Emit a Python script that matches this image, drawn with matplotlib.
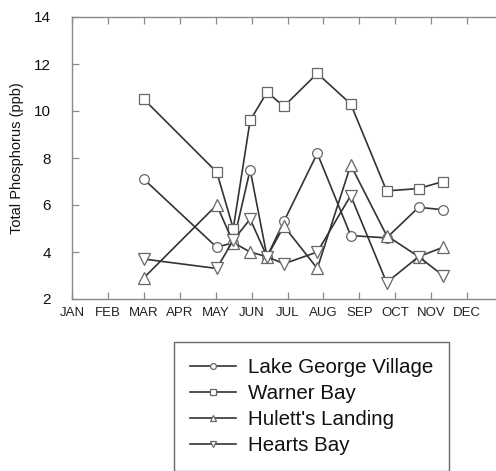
import matplotlib
matplotlib.use("Agg")
import matplotlib.pyplot as plt

plt.rcParams['font.family'] = ['Liberation Sans', 'DejaVu Sans']

# Sampling dates expressed as fractional months (JAN = 0)
months = [2.0, 4.03, 4.49, 4.96, 5.43, 5.9, 6.83, 7.76, 8.76, 9.65, 10.33]
month_labels = ['JAN', 'FEB', 'MAR', 'APR', 'MAY', 'JUN',
                'JUL', 'AUG', 'SEP', 'OCT', 'NOV', 'DEC']

lake_george_village = [7.1, 4.2, 4.4, 7.5, 3.8, 5.3, 8.2, 4.7, 4.6, 5.9, 5.8]
warner_bay = [10.5, 7.4, 5.0, 9.6, 10.8, 10.2, 11.6, 10.3, 6.6, 6.7, 7.0]
huletts_landing = [2.9, 6.0, 4.4, 4.0, 3.8, 5.1, 3.3, 7.7, 4.7, 3.8, 4.2]
hearts_bay = [3.7, 3.3, 4.5, 5.4, 3.8, 3.5, 4.0, 6.4, 2.7, 3.8, 3.0]

series = [
    ("Lake George Village", lake_george_village, 'o'),
    ("Warner Bay", warner_bay, 's'),
    ("Hulett's Landing", huletts_landing, '^'),
    ("Hearts Bay", hearts_bay, 'v'),
]

fig = plt.figure(figsize=(4.96, 4.71), dpi=100)
ax = fig.add_axes([72 / 496, 1 - 299 / 471, 431 / 496, 282 / 471])

line_color = '#333333'
edge_color = '#666666'
for name, vals, mk in series:
    ax.plot(months, vals, color=line_color, lw=1.2, marker=mk,
            markersize=7 if mk in 'os' else 8, markerfacecolor='white',
            markeredgecolor=edge_color, markeredgewidth=0.9, label=name,
            clip_on=False)

ax.set_xlim(0, 12)
ax.set_ylim(2, 14)
ax.set_xticks(range(12))
ax.set_xticklabels(month_labels)
ax.set_yticks(range(2, 15, 2))

for s in ax.spines.values():
    s.set_color('#8a8a8a')
    s.set_linewidth(1.0)

ax.tick_params(axis='both', direction='in', length=5, width=0.9,
               color='#8a8a8a', top=True, right=True)
ax.tick_params(axis='y', labelsize=11, pad=15, labelcolor='#111111')
ax.tick_params(axis='x', labelsize=9.5, pad=6, labelcolor='#222222')

ax.set_ylabel('Total Phosphorus (ppb)', fontsize=10.5, color='#111111',
              labelpad=7)

handles, labels = ax.get_legend_handles_labels()
leg = fig.legend(handles, labels, loc='upper left',
                 bbox_to_anchor=(174 / 496, 1 - 341.5 / 471),
                 borderaxespad=0, fontsize=14.8, frameon=True, fancybox=False,
                 handlelength=2.2, handletextpad=0.58, labelspacing=0.34,
                 borderpad=0.8, markerscale=0.6)
leg.get_frame().set_edgecolor('#444444')
leg.get_frame().set_linewidth(1.0)
for t in leg.get_texts():
    t.set_color('#111111')

fig.savefig('out.png', dpi=100)
